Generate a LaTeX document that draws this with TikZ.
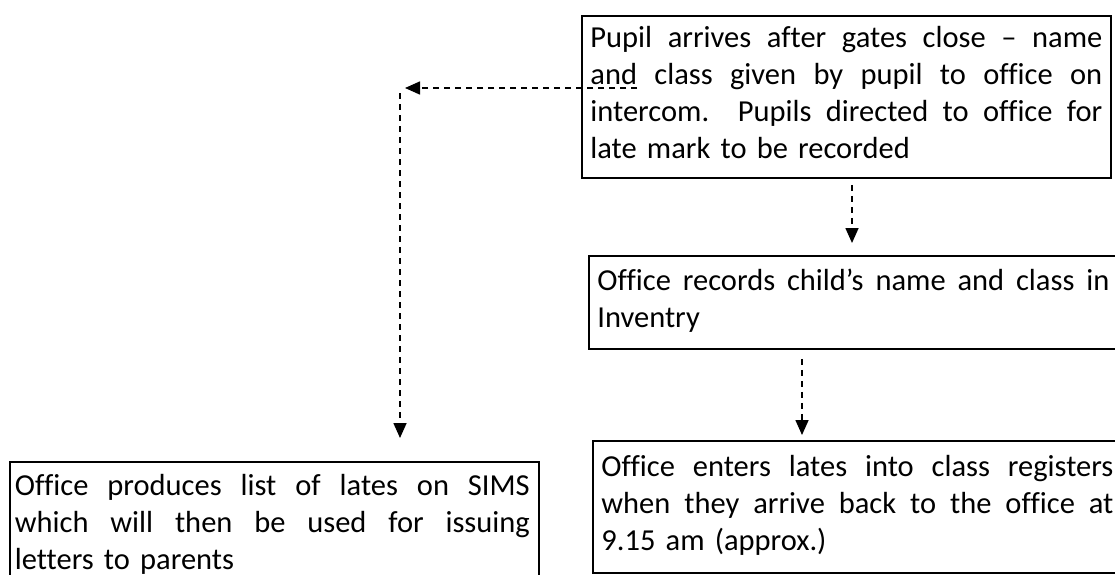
\documentclass[tikz,border=0pt]{standalone}
\usepackage{fontspec}
\setmainfont{Carlito}[Ligatures={NoCommon}]
\usetikzlibrary{arrows.meta,calc}
\frenchspacing
\newlength\jw
\setlength\jw{512pt}
\newcommand\mystrut{\rule[-12pt]{0pt}{37pt}}
\newcommand\jline[1]{\mystrut\hbox to\jw{\spaceskip=\fontdimen2\font plus 1fil\relax #1}\\}
\newcommand\lline[1]{\mystrut #1}
\tikzset{
  box/.style={draw=black, line width=1.8pt, rectangle, anchor=north west,
    inner xsep=8.5pt, text width=512pt, align=left,
    font=\fontsize{30.5}{37}\selectfont},
  darr/.style={line width=1.6pt, dash pattern=on 6pt off 5pt,
    -{Triangle[length=15pt,width=13pt]}}
}
\begin{document}
\begin{tikzpicture}[x=1pt,y=-1pt]
\useasboundingbox (0,0) rectangle (1115,574);
\clip (0,0) rectangle (1115,574);
\fill[white] (0,0) rectangle (1115,574);

\node[box, inner ysep=7pt] (box1) at (581,15)
 {\jline{Pupil arrives after gates close – name}
  \jline{and class given by pupil to office on}
  \jline{intercom. \ Pupils directed to office for}
  \lline{late mark to be recorded}};

\node[box, inner ysep=9.5pt] (box2) at (588,255)
 {\jline{Office records child’s name and class in}
  \lline{Inventry}};

\node[box, inner ysep=10.5pt] (box3) at (592,440)
 {\jline{Office enters lates into class registers}
  \jline{when they arrive back to the office at}
  \lline{9.15 am (approx.)}};

\node[box, inner ysep=9pt, inner xsep=5pt, text width=519pt] (box4) at (9,461)
 {\setlength\jw{515pt}%
  \jline{Office produces list of lates on SIMS}
  \jline{which will then be used for issuing}
  \lline{letters to parents}};

\coordinate (ax) at (852,0);
\coordinate (bx) at (802,0);
\coordinate (cs) at (637,88);
\coordinate (cc) at (405,88);
\coordinate (cv) at (400,93);

\draw[darr, shorten <=6pt, shorten >=12pt] (box1.south -| ax) -- (box2.north -| ax);
\draw[darr, shorten <=9pt, shorten >=5pt] (box2.south -| bx) -- (box3.north -| bx);
\draw[darr] (cs) -- (cc);
\draw[darr, shorten >=23pt] (cv) -- (cv |- box4.north);
\end{tikzpicture}
\end{document}
